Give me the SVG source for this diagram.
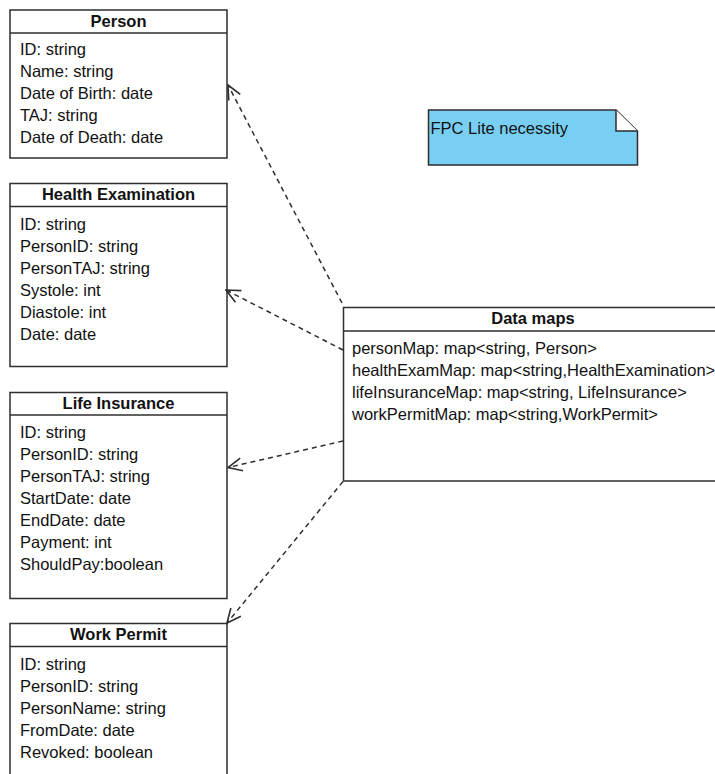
<svg xmlns="http://www.w3.org/2000/svg" width="715" height="774" viewBox="0 0 715 774">
  <style>
    .box { fill: #ffffff; stroke: #2e2e2e; stroke-width: 1.5; }
    .sep { stroke: #2e2e2e; stroke-width: 1.5; }
    .title { font-family: "Liberation Sans", Arial, sans-serif; font-size: 16.5px; font-weight: bold; fill: #111; text-anchor: middle; }
    .attr { font-family: "Liberation Sans", Arial, sans-serif; font-size: 16.5px; fill: #111; }
    .dep { fill: none; stroke: #2e2e2e; stroke-width: 1.5; stroke-dasharray: 5 4; }
    .note { fill: #79cef3; stroke: #2e2e2e; stroke-width: 1.5; }
  </style>
  <defs>
    <!-- open "V" head for dependency arrows -->
    <marker id="open-arrow" viewBox="0 0 16 16" refX="15" refY="8" markerWidth="16" markerHeight="16" markerUnits="userSpaceOnUse" orient="auto">
      <path d="M1,1.5 L15,8 L1,14.5" fill="none" stroke="#2e2e2e" stroke-width="1.6"/>
    </marker>
  </defs>

  <rect width="715" height="774" fill="#ffffff"/>

  <!-- Person -->
  <g id="person">
    <rect class="box" x="10" y="10" width="217" height="148"/>
    <line class="sep" x1="10" y1="33" x2="227" y2="33"/>
    <text class="title" x="118.5" y="27">Person</text>
    <text class="attr" x="20" y="55">ID: string</text>
    <text class="attr" x="20" y="77">Name: string</text>
    <text class="attr" x="20" y="99">Date of Birth: date</text>
    <text class="attr" x="20" y="121">TAJ: string</text>
    <text class="attr" x="20" y="143">Date of Death: date</text>
  </g>

  <!-- Health Examination -->
  <g id="health-examination">
    <rect class="box" x="10" y="183.5" width="217" height="183"/>
    <line class="sep" x1="10" y1="206.5" x2="227" y2="206.5"/>
    <text class="title" x="118.5" y="200">Health Examination</text>
    <text class="attr" x="20" y="230">ID: string</text>
    <text class="attr" x="20" y="252">PersonID: string</text>
    <text class="attr" x="20" y="274">PersonTAJ: string</text>
    <text class="attr" x="20" y="296">Systole: int</text>
    <text class="attr" x="20" y="318">Diastole: int</text>
    <text class="attr" x="20" y="340">Date: date</text>
  </g>

  <!-- Life Insurance -->
  <g id="life-insurance">
    <rect class="box" x="10" y="392.5" width="217" height="206"/>
    <line class="sep" x1="10" y1="415" x2="227" y2="415"/>
    <text class="title" x="118.5" y="409">Life Insurance</text>
    <text class="attr" x="20" y="438">ID: string</text>
    <text class="attr" x="20" y="460">PersonID: string</text>
    <text class="attr" x="20" y="482">PersonTAJ: string</text>
    <text class="attr" x="20" y="504">StartDate: date</text>
    <text class="attr" x="20" y="526">EndDate: date</text>
    <text class="attr" x="20" y="548">Payment: int</text>
    <text class="attr" x="20" y="570">ShouldPay:boolean</text>
  </g>

  <!-- Work Permit (runs past the bottom edge) -->
  <g id="work-permit">
    <rect class="box" x="10" y="623.5" width="217" height="170"/>
    <line class="sep" x1="10" y1="646.5" x2="227" y2="646.5"/>
    <text class="title" x="118.5" y="640">Work Permit</text>
    <text class="attr" x="20" y="670">ID: string</text>
    <text class="attr" x="20" y="692">PersonID: string</text>
    <text class="attr" x="20" y="714">PersonName: string</text>
    <text class="attr" x="20" y="736">FromDate: date</text>
    <text class="attr" x="20" y="758">Revoked: boolean</text>
  </g>

  <!-- Data maps (runs past the right edge) -->
  <g id="data-maps">
    <rect class="box" x="343.5" y="307.5" width="380" height="173.5"/>
    <line class="sep" x1="343.5" y1="331" x2="723.5" y2="331"/>
    <text class="title" x="533" y="324">Data maps</text>
    <text class="attr" x="352" y="354">personMap: map&lt;string, Person&gt;</text>
    <text class="attr" x="352" y="376">healthExamMap: map&lt;string,HealthExamination&gt;</text>
    <text class="attr" x="352" y="398">lifeInsuranceMap: map&lt;string, LifeInsurance&gt;</text>
    <text class="attr" x="352" y="420">workPermitMap: map&lt;string,WorkPermit&gt;</text>
  </g>

  <!-- Note -->
  <g id="note">
    <path class="note" d="M428.5,110 L616,110 L637.5,131 L637.5,165 L428.5,165 Z"/>
    <path d="M616,110 L616,131 L637.5,131" fill="#ffffff" stroke="#2e2e2e" stroke-width="1.5"/>
    <text class="attr" x="430.5" y="134">FPC Lite necessity</text>
  </g>

  <!-- Dependencies -->
  <g id="connectors">
    <line class="dep" x1="342" y1="303" x2="228" y2="85" marker-end="url(#open-arrow)"/>
    <line class="dep" x1="343" y1="350" x2="226" y2="290" marker-end="url(#open-arrow)"/>
    <line class="dep" x1="343" y1="441" x2="228" y2="467.5" marker-end="url(#open-arrow)"/>
    <line class="dep" x1="343" y1="481.5" x2="227" y2="623" marker-end="url(#open-arrow)"/>
  </g>
</svg>
